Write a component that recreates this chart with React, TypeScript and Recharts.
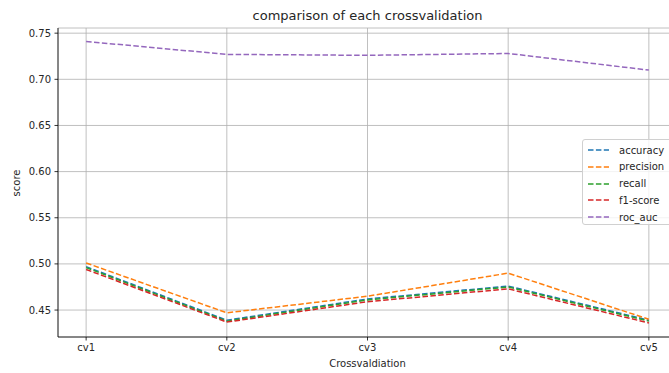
import { LineChart, Line, XAxis, YAxis, CartesianGrid } from 'recharts';

const folds = ['cv1', 'cv2', 'cv3', 'cv4', 'cv5'];
const accuracy = [0.497, 0.439, 0.462, 0.476, 0.439];
const precision = [0.501, 0.447, 0.465, 0.49, 0.44];
const recall = [0.496, 0.438, 0.461, 0.475, 0.438];
const f1Score = [0.494, 0.437, 0.459, 0.473, 0.436];
const rocAuc = [0.741, 0.727, 0.726, 0.728, 0.71];
const yTicks = [0.45, 0.5, 0.55, 0.6, 0.65, 0.7, 0.75];

const series = [
  { key: 'accuracy', values: accuracy, color: '#1f77b4' },
  { key: 'precision', values: precision, color: '#ff7f0e' },
  { key: 'recall', values: recall, color: '#2ca02c' },
  { key: 'f1-score', values: f1Score, color: '#d62728' },
  { key: 'roc_auc', values: rocAuc, color: '#9467bd' },
];

const data = folds.map((name, i) => {
  const row: Record<string, number | string> = { x: i, name };
  series.forEach((s) => {
    row[s.key] = s.values[i];
  });
  return row;
});

const font = "'DejaVu Sans', sans-serif";
const textColor = '#262626';
const dash = '5.5 2.4';

export default function App() {
  return (
    <div
      style={{
        position: 'absolute',
        left: 0,
        top: 0,
        width: 669,
        height: 373,
        overflow: 'hidden',
        background: '#fff',
        fontFamily: font,
      }}
    >
      <LineChart width={700} height={373} data={data} margin={{ top: 28, right: 23, bottom: 0, left: 0 }}>
        <CartesianGrid stroke="#b0b0b0" strokeWidth={0.8} />
        <XAxis
          dataKey="x"
          type="number"
          domain={[-0.2, 4.2]}
          ticks={[0, 1, 2, 3, 4]}
          tickFormatter={(v: number) => folds[v]}
          height={36}
          tickSize={3.5}
          tickMargin={3.5}
          stroke="#000"
          strokeWidth={0.8}
          tick={{ fill: textColor, fontSize: 10, fontFamily: font }}
        />
        <XAxis
          xAxisId="top"
          orientation="top"
          dataKey="x"
          type="number"
          domain={[-0.2, 4.2]}
          height={0}
          tick={false}
          tickLine={false}
          stroke="#000"
          strokeWidth={0.8}
        />
        <YAxis
          type="number"
          domain={[0.4208, 0.7556]}
          allowDataOverflow
          ticks={yTicks}
          tickFormatter={(v: number) => v.toFixed(2)}
          width={58}
          tickSize={3.5}
          tickMargin={3.5}
          stroke="#000"
          strokeWidth={0.8}
          tick={{ fill: textColor, fontSize: 10, fontFamily: font }}
        />
        {series.map((s) => (
          <Line
            key={s.key}
            type="linear"
            dataKey={s.key}
            stroke={s.color}
            strokeWidth={1.5}
            strokeDasharray={dash}
            dot={false}
            isAnimationActive={false}
          />
        ))}
      </LineChart>

      <div
        style={{
          position: 'absolute',
          left: 0,
          width: 735,
          top: 8,
          textAlign: 'center',
          fontSize: 13,
          color: textColor,
        }}
      >
        comparison of each crossvalidation
      </div>
      <div
        style={{
          position: 'absolute',
          left: 0,
          width: 735,
          top: 358,
          textAlign: 'center',
          fontSize: 10,
          color: textColor,
        }}
      >
        Crossvaldiation
      </div>
      <div
        style={{
          position: 'absolute',
          left: 16,
          top: 183,
          transform: 'translate(-50%, -50%) rotate(-90deg)',
          fontSize: 10,
          color: textColor,
        }}
      >
        score
      </div>

      <div
        style={{
          position: 'absolute',
          left: 582,
          top: 139,
          width: 92,
          height: 86,
          boxSizing: 'border-box',
          background: 'rgba(255,255,255,0.8)',
          border: '1px solid #d0d0d0',
          borderRadius: 3,
        }}
      >
        {series.map((s, i) => (
          <div
            key={s.key}
            style={{
              position: 'absolute',
              left: 0,
              top: 2 + i * 16.8,
              height: 16,
              display: 'flex',
              alignItems: 'center',
              fontSize: 10,
              color: textColor,
              whiteSpace: 'nowrap',
            }}
          >
            <svg width={32} height={6} style={{ marginLeft: 4 }}>
              <line x1={1} y1={3} x2={22} y2={3} stroke={s.color} strokeWidth={1.5} strokeDasharray={dash} />
            </svg>
            <span>{s.key}</span>
          </div>
        ))}
      </div>
    </div>
  );
}
